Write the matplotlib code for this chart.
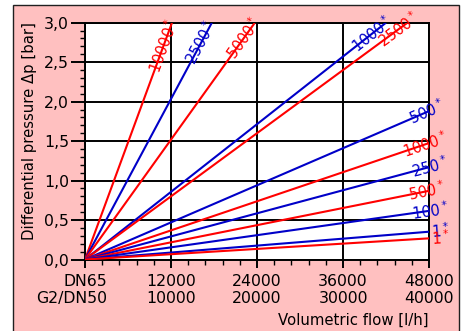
import math

import matplotlib
matplotlib.use("Agg")
import matplotlib.pyplot as plt
from matplotlib.patches import Rectangle
from matplotlib.ticker import MultipleLocator
from matplotlib.transforms import ScaledTranslation

RED = "#ff0000"
BLUE = "#0000c8"
PINK = "#ffc0c0"

# One straight curve per setting, from the origin to where it leaves the grid.
curve_labels = ["10000", "2500", "5000", "1000", "2500", "500",
                "1000", "250", "500", "100", "1", "1"]
curve_colours = [RED, BLUE, RED, BLUE, RED, BLUE,
                 RED, BLUE, RED, BLUE, BLUE, RED]
end_flow = [12140, 17700, 23700, 42000, 45000, 48000,
            48000, 48000, 48000, 48000, 48000, 48000]
end_dp = [3.0, 3.0, 3.0, 3.0, 3.0, 1.88,
          1.475, 1.17, 0.87, 0.616, 0.352, 0.268]
# flow where the curve label starts
label_flow = [9600, 14650, 20230, 37500, 41150, 45300,
              44360, 45575, 45060, 45575, 48300, 48300]

flow_ticks = [0, 12000, 24000, 36000, 48000]
flow_row_dn65 = ["DN65", "12000", "24000", "36000", "48000"]
flow_row_dn50 = ["G2/DN50", "10000", "20000", "30000", "40000"]
dp_ticks = [0.0, 0.5, 1.0, 1.5, 2.0, 2.5, 3.0]
dp_labels = ["0,0", "0,5", "1,0", "1,5", "2,0", "2,5", "3,0"]

fig = plt.figure(figsize=(4.67, 3.31), dpi=100, facecolor="white")
fig.add_artist(Rectangle((13 / 467, -0.1), 446 / 467, 326 / 331 + 0.1,
                         transform=fig.transFigure, facecolor=PINK,
                         edgecolor="#202020", lw=1.0, zorder=-1))

ax = fig.add_axes([85 / 467, 71.5 / 331, 344 / 467, 236.8 / 331])
ax.set_facecolor("white")
ax.set_xlim(0, 48000)
ax.set_ylim(0, 3.0)

ax.grid(True, which="major", color="black", lw=1.4)
for sp in ax.spines.values():
    sp.set_linewidth(1.4)

ax.set_yticks(dp_ticks, dp_labels)
ax.yaxis.set_minor_locator(MultipleLocator(0.1))
ax.set_xticks(flow_ticks, [a + "\n" + b for a, b in zip(flow_row_dn65, flow_row_dn50)])
ax.xaxis.set_minor_locator(MultipleLocator(2400))
ax.tick_params(axis="y", which="major", length=10, width=1.4, pad=1.5, labelsize=11.3)
ax.tick_params(axis="y", which="minor", length=3.6, width=1.0)
ax.tick_params(axis="x", which="major", length=6, width=1.4, pad=4.5, labelsize=11.3)
ax.tick_params(axis="x", which="minor", length=3.6, width=1.0)

xlabels = ax.get_xticklabels()
for lab in xlabels:
    lab.set_linespacing(1.15)
first = xlabels[0]
first.set_ha("right")
first.set_multialignment("right")
first.set_transform(first.get_transform() + ScaledTranslation(0.22, 0, fig.dpi_scale_trans))

ax.set_ylabel("Differential pressure Δp [bar]", fontsize=10.7)
ax.yaxis.set_label_coords(-0.1395, 0.543)
ax.set_xlabel("Volumetric flow [l/h]", fontsize=10.7, ha="right")
ax.xaxis.set_label_coords(1.0, -0.226)

p0 = ax.transData.transform((0, 0))
for lab, col, fx, dp, lf in zip(curve_labels, curve_colours, end_flow, end_dp, label_flow):
    ax.plot([0, fx], [0, dp], color=col, lw=1.5, solid_capstyle="butt", zorder=3)
    p1 = ax.transData.transform((fx, dp))
    ang = math.degrees(math.atan2(p1[1] - p0[1], p1[0] - p0[0]))
    ax.text(lf, dp * lf / fx, lab + "$^*$", color=col, fontsize=10.5,
            rotation=ang, rotation_mode="anchor", ha="left", va="center",
            clip_on=False, zorder=4)

fig.savefig("out.png", dpi=100)
